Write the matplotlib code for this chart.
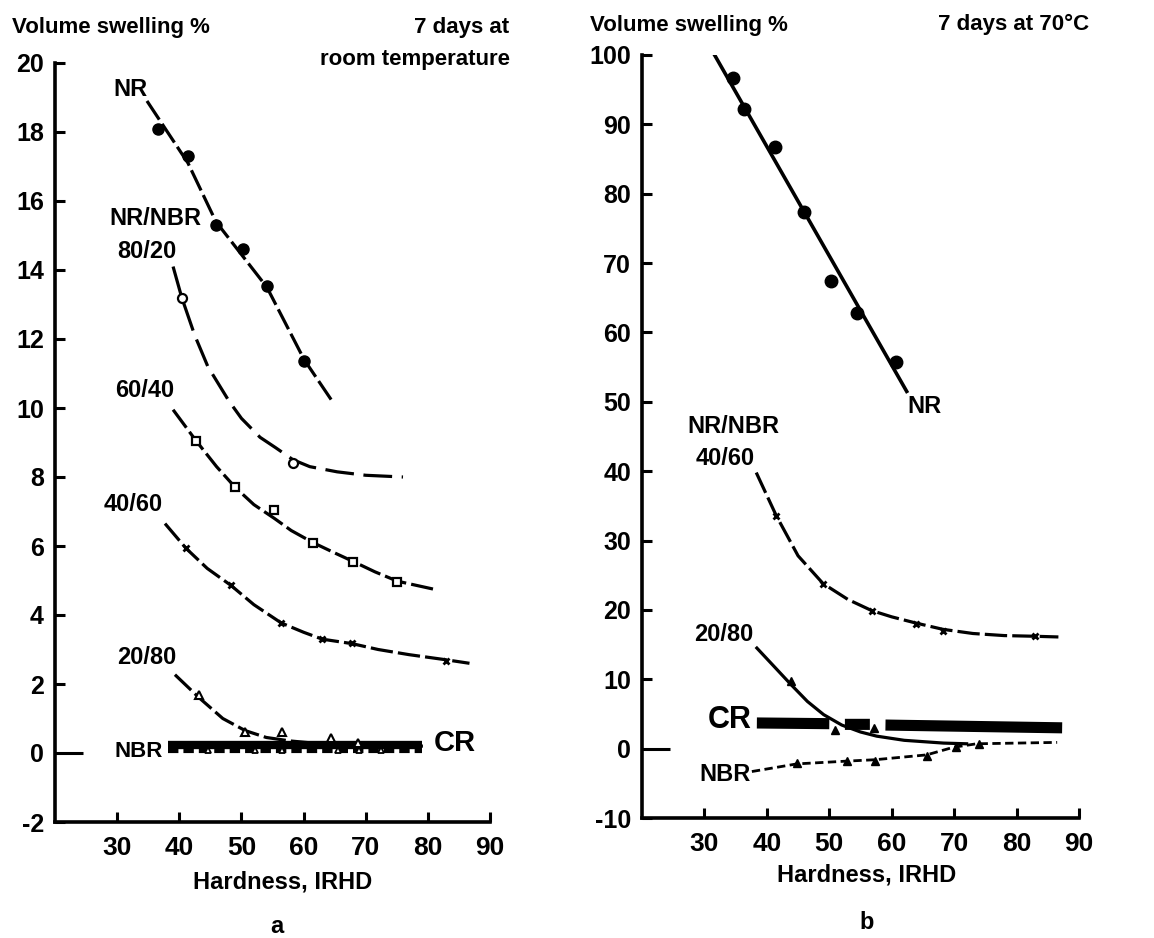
import numpy as np
import matplotlib
matplotlib.use("Agg")
import matplotlib.pyplot as plt

plt.rcParams["font.family"] = ["Liberation Sans", "DejaVu Sans"]
plt.rcParams["font.weight"] = "bold"

# ---- panel a: 7 days at room temperature ----
nr_a_x = [36.6, 41.4, 45.9, 50.3, 54.1, 60.1]
nr_a_y = [18.1, 17.3, 15.3, 14.6, 13.55, 11.35]
nr_a_fit_x = [34.8, 41.4, 45.9, 54.1, 60.1, 64.6]
nr_a_fit_y = [18.9, 17.1, 15.4, 13.5, 11.4, 10.2]

b8020_x = [40.4, 58.3]
b8020_y = [13.2, 8.4]
b8020_fit_x = [39.0, 40.4, 42.5, 44.6, 46.3, 48.0, 50.0, 53.0, 55.5, 58.3, 61.0, 65.4, 70.0, 76.0]
b8020_fit_y = [14.1, 13.2, 12.1, 11.2, 10.7, 10.2, 9.7, 9.15, 8.85, 8.5, 8.3, 8.15, 8.05, 8.0]

b6040_x = [42.7, 49.0, 55.3, 61.5, 68.0, 75.1]
b6040_y = [9.05, 7.7, 7.05, 6.1, 5.55, 4.95]
b6040_fit_x = [39.0, 42.7, 46.0, 49.0, 52.0, 55.3, 58.0, 61.5, 65.0, 68.0, 71.5, 75.1, 80.9]
b6040_fit_y = [9.95, 9.05, 8.3, 7.7, 7.2, 6.8, 6.45, 6.1, 5.8, 5.55, 5.25, 4.98, 4.75]

b4060_a_x = [41.1, 48.3, 56.4, 63.0, 67.8, 83.0]
b4060_a_y = [5.93, 4.86, 3.77, 3.3, 3.19, 2.68]
b4060_a_fit_x = [37.7, 41.1, 44.5, 48.3, 52.0, 56.4, 60.0, 63.0, 67.8, 72.0, 77.0, 83.0, 86.7]
b4060_a_fit_y = [6.65, 5.93, 5.35, 4.86, 4.3, 3.77, 3.5, 3.3, 3.17, 3.0, 2.85, 2.7, 2.6]

b2080_a_x = [43.2, 50.6, 56.5, 64.4, 68.8]
b2080_a_y = [1.67, 0.6, 0.6, 0.43, 0.29]
b2080_a_fit_x = [39.3, 43.2, 47.0, 50.6, 54.0, 57.8, 62.0, 68.0, 75.0, 80.0]
b2080_a_fit_y = [2.27, 1.6, 1.0, 0.65, 0.45, 0.35, 0.28, 0.22, 0.2, 0.2]

cr_a_x = [38.2, 79.1]
cr_a_y = [0.22, 0.22]
nbr_a_x = [38.2, 79.0]
nbr_a_y = [0.05, 0.05]
nbr_a_mx = [44.6, 52.2, 56.5, 65.5, 69.0, 72.5]
nbr_a_my = [0.08, 0.08, 0.08, 0.08, 0.08, 0.08]

# ---- panel b: 7 days at 70 C ----
nr_b_x = [34.5, 36.4, 41.3, 46.0, 50.3, 54.5, 60.7]
nr_b_y = [96.7, 92.2, 86.7, 77.3, 67.4, 62.8, 55.7]
nr_b_fit_x = [31.5, 62.4]
nr_b_fit_y = [100.2, 51.5]

b4060_b_x = [41.5, 49.0, 56.8, 63.9, 68.2, 82.9]
b4060_b_y = [33.6, 23.8, 19.8, 18.0, 17.0, 16.2]
b4060_b_fit_x = [38.3, 41.5, 45.0, 49.0, 53.0, 56.8, 60.0, 63.9, 68.2, 73.0, 78.0, 82.9, 86.7]
b4060_b_fit_y = [39.8, 33.6, 27.8, 23.8, 21.5, 19.9, 19.0, 18.1, 17.2, 16.6, 16.3, 16.2, 16.1]

b2080_b_x = [43.8, 50.9, 57.1]
b2080_b_y = [9.7, 2.7, 3.0]
b2080_b_fit_x = [38.4, 41.0, 43.8, 46.5, 49.1, 52.0, 55.0, 57.6, 62.0, 68.3, 72.0]
b2080_b_fit_y = [14.5, 12.0, 9.3, 6.8, 4.9, 3.4, 2.4, 1.8, 1.2, 0.8, 0.7]

cr_b_x = [38.4, 50.0, np.nan, 52.5, 56.5, np.nan, 59.0, 87.3]
cr_b_y = [3.7, 3.6, np.nan, 3.5, 3.5, np.nan, 3.4, 3.0]

nbr_b_x = [37.6, 44.8, 52.8, 57.3, 65.6, 69.9, 73.6, 86.5]
nbr_b_y = [-3.3, -2.2, -1.8, -1.6, -0.9, 0.2, 0.7, 0.9]
nbr_b_mx = [44.8, 52.8, 57.3, 65.6, 70.3, 74.0]
nbr_b_my = [-2.1, -1.8, -1.8, -1.0, 0.3, 0.7]

x_ticks = [30, 40, 50, 60, 70, 80, 90]
ya_ticks = [-2, 0, 2, 4, 6, 8, 10, 12, 14, 16, 18, 20]
yb_ticks = [-10, 0, 10, 20, 30, 40, 50, 60, 70, 80, 90, 100]

W, H = 1154, 938
fig = plt.figure(figsize=(W / 100, H / 100), dpi=100)
ax_a = fig.add_axes([55 / W, 1 - 822 / H, 435 / W, 759 / H])
ax_b = fig.add_axes([642 / W, 1 - 818 / H, 437 / W, 763 / H])


def style_axes(ax, yticks, ylim):
    ax.set_xlim(20, 90)
    ax.set_ylim(*ylim)
    for s in ["top", "right"]:
        ax.spines[s].set_visible(False)
    for s in ["left", "bottom"]:
        ax.spines[s].set_linewidth(2.6)
    ax.set_xticks(x_ticks)
    ax.set_yticks(yticks)
    ax.set_yticklabels([str(t) for t in yticks])
    ax.tick_params(axis="both", direction="in", width=2.2)
    ax.tick_params(axis="y", length=7, pad=8, labelsize=18)
    ax.tick_params(axis="x", length=7, pad=10, labelsize=19)
    for lab in ax.get_xticklabels() + ax.get_yticklabels():
        lab.set_fontweight("bold")
    # the zero tick is drawn longer
    zero = ax.yaxis.get_major_ticks()[yticks.index(0)]
    zero.tick1line.set_markersize(20)


style_axes(ax_a, ya_ticks, (-2, 20))
style_axes(ax_b, yb_ticks, (-10, 100))

dash = (0, (7, 1.6))
lw = 2.3

# panel a
ax_a.plot(nr_a_fit_x, nr_a_fit_y, color="black", lw=lw, ls=dash)
ax_a.plot(nr_a_x, nr_a_y, "o", color="black", ms=8, zorder=5)
ax_a.plot(b8020_fit_x, b8020_fit_y, color="black", lw=lw, ls=(0, (9, 3)))
ax_a.plot(b8020_x, b8020_y, "o", mfc="white", mec="black", mew=1.6, ms=6.5, zorder=5)
ax_a.plot(b6040_fit_x, b6040_fit_y, color="black", lw=lw, ls=dash)
ax_a.plot(b6040_x, b6040_y, "s", mfc="white", mec="black", mew=1.6, ms=5.5, zorder=5)
ax_a.plot(b4060_a_fit_x, b4060_a_fit_y, color="black", lw=lw, ls=dash)
ax_a.plot(b4060_a_x, b4060_a_y, "x", color="black", mew=2, ms=4.5, zorder=5)
ax_a.plot(b2080_a_fit_x, b2080_a_fit_y, color="black", lw=lw, ls=dash)
ax_a.plot(b2080_a_x, b2080_a_y, "^", mfc="white", mec="black", mew=1.5, ms=5.5, zorder=5)
ax_a.plot(cr_a_x, cr_a_y, color="black", lw=6, solid_capstyle="butt")
ax_a.plot(nbr_a_x, nbr_a_y, color="black", lw=3, ls=(0, (2.5, 1.2)))
ax_a.plot(nbr_a_mx, nbr_a_my, "^", mfc="white", mec="black", mew=1.3, ms=5, zorder=5)

lab_kw = dict(fontsize=17, fontweight="bold", ha="center", va="center")
ax_a.text(32.1, 19.22, "NR", **lab_kw)
ax_a.text(36.1, 15.48, "NR/NBR", **lab_kw)
ax_a.text(34.8, 14.53, "80/20", **lab_kw)
ax_a.text(34.5, 10.5, "60/40", **lab_kw)
ax_a.text(32.6, 7.19, "40/60", **lab_kw)
ax_a.text(34.8, 2.76, "20/80", **lab_kw)
ax_a.text(33.4, 0.03, "NBR", fontsize=16, fontweight="bold", ha="center", va="center")
ax_a.text(81.0, 0.29, "CR", fontsize=21, fontweight="bold", ha="left", va="center")

# panel b
ax_b.plot(nr_b_fit_x, nr_b_fit_y, color="black", lw=2.6)
ax_b.plot(nr_b_x, nr_b_y, "o", color="black", ms=9, zorder=5)
ax_b.plot(b4060_b_fit_x, b4060_b_fit_y, color="black", lw=lw, ls=dash)
ax_b.plot(b4060_b_x, b4060_b_y, "x", color="black", mew=2, ms=4.5, zorder=5)
ax_b.plot(b2080_b_fit_x, b2080_b_fit_y, color="black", lw=lw)
ax_b.plot(b2080_b_x, b2080_b_y, "^", color="black", ms=6, zorder=5)
ax_b.plot(cr_b_x, cr_b_y, color="black", lw=8, solid_capstyle="butt")
ax_b.plot(nbr_b_x, nbr_b_y, color="black", lw=2, ls=(0, (3, 1.6)))
ax_b.plot(nbr_b_mx, nbr_b_my, "^", color="black", ms=5.5, zorder=5)

ax_b.text(65.3, 49.3, "NR", **lab_kw)
ax_b.text(34.7, 46.5, "NR/NBR", **lab_kw)
ax_b.text(33.3, 41.8, "40/60", **lab_kw)
ax_b.text(33.1, 16.4, "20/80", **lab_kw)
ax_b.text(34.1, 4.2, "CR", fontsize=22, fontweight="bold", ha="center", va="center")
ax_b.text(33.3, -3.7, "NBR", **lab_kw)

# figure texts
def ftext(px, py, s, **kw):
    fig.text(px / W, 1 - py / H, s, fontweight="bold", va="center", **kw)

ftext(12, 28, "Volume swelling %", fontsize=16, ha="left")
ftext(509, 27, "7 days at", fontsize=16, ha="right")
ftext(510, 59, "room temperature", fontsize=16, ha="right")
ftext(283, 882, "Hardness, IRHD", fontsize=17, ha="center")
ftext(277, 926, "a", fontsize=17, ha="center")

ftext(590, 25, "Volume swelling %", fontsize=16, ha="left")
ftext(1089, 24, "7 days at 70°C", fontsize=16, ha="right")
ftext(867, 875, "Hardness, IRHD", fontsize=17, ha="center")
ftext(867, 922, "b", fontsize=17, ha="center")

fig.savefig("out.png", dpi=100)
